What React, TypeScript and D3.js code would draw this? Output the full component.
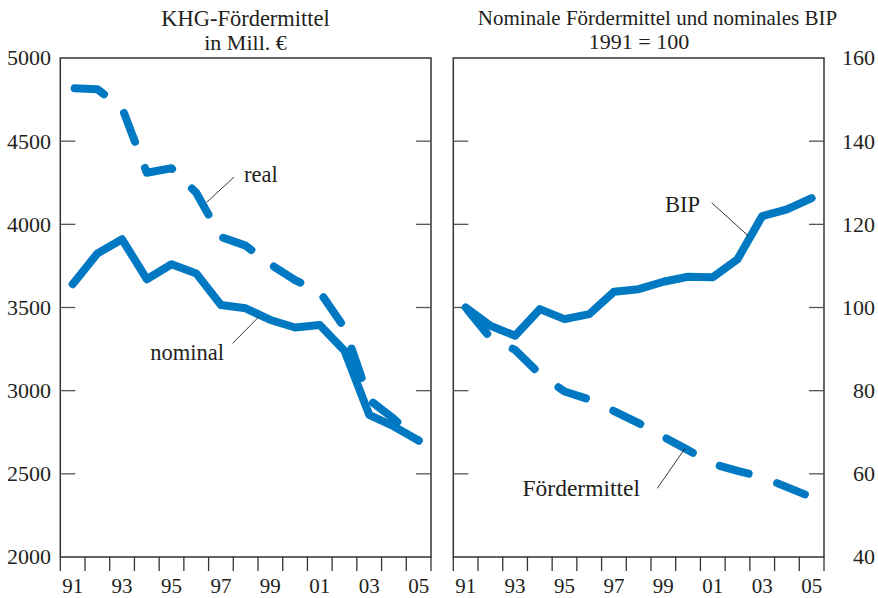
import React from "react";
import * as d3 from "d3";

const years = [1991, 1992, 1993, 1994, 1995, 1996, 1997, 1998, 1999, 2000, 2001, 2002, 2003, 2004, 2005];
const yearLabels = ["91", "93", "95", "97", "99", "01", "03", "05"];
const labelYears = [1991, 1993, 1995, 1997, 1999, 2001, 2003, 2005];

const nominal = [3640, 3825, 3910, 3670, 3760, 3705, 3515, 3495, 3425, 3380, 3395, 3240, 2855, 2785, 2700];
const real = [4818, 4812, 4700, 4310, 4337, 4190, 3924, 3872, 3760, 3665, 3593, 3377, 2945, 2830, 2700];

const bip = [100, 95.6, 93.2, 99.6, 97.2, 98.4, 103.8, 104.4, 106.2, 107.4, 107.3, 111.6, 122, 123.6, 126.3];
const foerder = [100, 92.7, 89.8, 84, 79.8, 77.9, 75.1, 72.2, 68.9, 65.7, 62.4, 60.7, 59.2, 56.8, 54.4];

const leftTicks = [2000, 2500, 3000, 3500, 4000, 4500, 5000];
const rightTicks = [40, 60, 80, 100, 120, 140, 160];

const BLUE = "#0079c2";
const TEXT = "#231f20";
const FONT = "'Liberation Serif', 'DejaVu Serif', serif";

const W = 878;
const H = 598;
const top = 58;
const bottom = 557;
const L = { x0: 60.3, x1: 431 };
const R = { x0: 453.3, x1: 824 };

export default function App() {
  const xL = d3.scaleLinear().domain([1990.5, 2005.5]).range([L.x0, L.x1]);
  const xR = d3.scaleLinear().domain([1990.5, 2005.5]).range([R.x0, R.x1]);
  const yL = d3.scaleLinear().domain([2000, 5000]).range([bottom, top]);
  const yR = d3.scaleLinear().domain([40, 160]).range([bottom, top]);

  const lineL = d3.line<number>().x((_, i) => xL(years[i])).y((d) => yL(d));
  const lineR = d3.line<number>().x((_, i) => xR(years[i])).y((d) => yR(d));

  const boundaries = d3.range(16).map((i) => 1990.5 + i);

  const tickLen = 15;

  const panelFrame = (x: d3.ScaleLinear<number, number>, x0: number, x1: number, y: d3.ScaleLinear<number, number>, ticks: number[]) => (
    <g>
      <rect x={x0} y={top} width={x1 - x0} height={bottom - top} fill="none" stroke="#333" strokeWidth={1.5} />
      {ticks.slice(1, -1).map((t) => (
        <g key={t}>
          <line x1={x0} x2={x0 + tickLen} y1={y(t)} y2={y(t)} stroke="#555" strokeWidth={1.3} />
          <line x1={x1 - tickLen} x2={x1} y1={y(t)} y2={y(t)} stroke="#555" strokeWidth={1.3} />
        </g>
      ))}
      {boundaries.map((b) => (
        <line key={b} x1={x(b)} x2={x(b)} y1={bottom} y2={bottom + 14} stroke="#333" strokeWidth={1.3} />
      ))}
      {labelYears.map((yr, i) => (
        <text key={yr} x={x(yr)} y={593} textAnchor="middle" fontSize={21} fill={TEXT}>
          {yearLabels[i]}
        </text>
      ))}
    </g>
  );

  return (
    <svg
      width={W}
      height={H}
      style={{ position: "absolute", left: 0, top: 0, background: "#fff" }}
      fontFamily={FONT}
    >
      <rect x={0} y={0} width={W} height={H} fill="#fff" />
      {/* Titles */}
      <text x={245.5} y={26} textAnchor="middle" fontSize={22.5} fill={TEXT}>KHG-Fördermittel</text>
      <text x={245.5} y={50} textAnchor="middle" fontSize={22} fill={TEXT}>in Mill. €</text>
      <text x={657.5} y={25} textAnchor="middle" fontSize={21} fill={TEXT}>Nominale Fördermittel und nominales BIP</text>
      <text x={639} y={49} textAnchor="middle" fontSize={22} fill={TEXT}>1991 = 100</text>

      {panelFrame(xL, L.x0, L.x1, yL, leftTicks)}
      {panelFrame(xR, R.x0, R.x1, yR, rightTicks)}

      {/* y tick labels */}
      {leftTicks.map((t) => (
        <text key={t} x={51} y={yL(t)} dy="0.34em" textAnchor="end" fontSize={22} fill={TEXT}>{t}</text>
      ))}
      {rightTicks.map((t) => (
        <text key={t} x={875} y={yR(t)} dy="0.34em" textAnchor="end" fontSize={22} fill={TEXT}>{t}</text>
      ))}

      {/* Left panel lines */}
      <path d={lineL(nominal) || ""} fill="none" stroke={BLUE} strokeWidth={8} strokeLinejoin="round" strokeLinecap="round" />
      <path d={lineL(real) || ""} fill="none" stroke={BLUE} strokeWidth={8} strokeLinejoin="round" strokeLinecap="round" strokeDasharray="31 28" strokeDashoffset={-2} />

      {/* Right panel lines */}
      <path d={lineR(bip) || ""} fill="none" stroke={BLUE} strokeWidth={8} strokeLinejoin="round" strokeLinecap="round" />
      <path d={lineR(foerder) || ""} fill="none" stroke={BLUE} strokeWidth={8} strokeLinejoin="round" strokeLinecap="round" strokeDasharray="30 30" strokeDashoffset={-4} />

      {/* Annotations */}
      <line x1={234} y1={177} x2={207} y2={202} stroke="#222" strokeWidth={0.9} />
      <text x={244} y={182} fontSize={22.5} fill={TEXT}>real</text>

      <line x1={232.7} y1={343.3} x2={258.3} y2={317.3} stroke="#222" strokeWidth={0.9} />
      <text x={224} y={360} textAnchor="end" fontSize={22.5} fill={TEXT}>nominal</text>

      <line x1={711.7} y1={202.7} x2={748.3} y2={236} stroke="#222" strokeWidth={0.9} />
      <text x={700} y={211.7} textAnchor="end" fontSize={22.5} fill={TEXT}>BIP</text>

      <line x1={657.3} y1={488.3} x2={685} y2={448.3} stroke="#222" strokeWidth={0.9} />
      <text x={640} y={496} textAnchor="end" fontSize={23.5} fill={TEXT}>Fördermittel</text>
    </svg>
  );
}
